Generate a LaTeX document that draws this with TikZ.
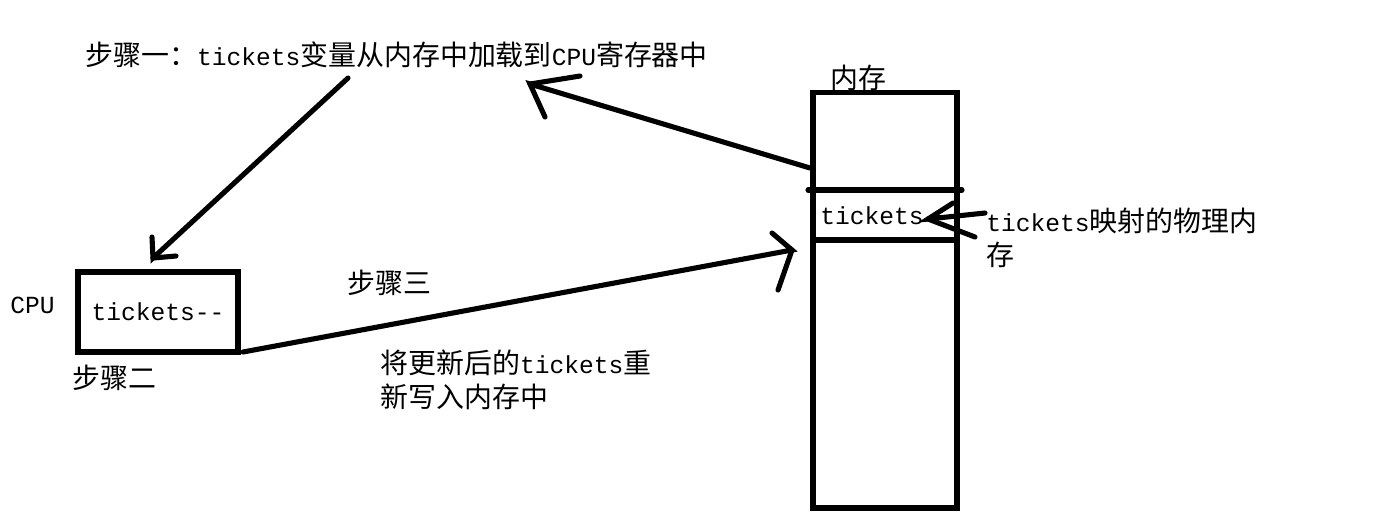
\documentclass[tikz,border=0pt]{standalone}
\usepackage{fontspec}
\newfontfamily\cjk{Noto Sans CJK SC}
\setmonofont{Liberation Mono}
\newcommand{\lat}[1]{{\fontsize{14pt}{16pt}\ttfamily #1}}
\begin{document}
\begin{tikzpicture}[x=0.02cm, y=-0.02cm,
  every node/.style={font=\fontsize{15.9pt}{19.6pt}\cjk, inner sep=0pt},
  pen/.style={line width=2.9pt, line cap=round}]
  \useasboundingbox (0,0) rectangle (1391,522);

  % memory column
  \node[draw, line width=2.9pt, minimum width=2.88cm, minimum height=8.32cm] (mem) at (885,300) {};
  \draw[pen] (808,190) -- (962,190);
  \draw[pen] (813,240) -- (957,240);
  \node[anchor=west] (memlabel) at (830,78) {内存};
  \node[anchor=west] (slot) at (820,216) {\lat{tickets}};
  \node[anchor=west, align=left] (maplabel) at (986,238) {\lat{tickets}映射的物理内\\存};

  % cpu
  \node[draw, line width=2.9pt, minimum width=3.2cm, minimum height=1.6cm] (cpu) at (158,312) {\lat{tickets--}};
  \node[anchor=west] (cpulabel) at (10,305) {\lat{CPU}};

  % steps
  \node[anchor=west] (step1) at (85,55) {步骤一：\lat{tickets}变量从内存中加载到\lat{CPU}寄存器中};
  \node[anchor=west] (step2) at (72,378) {步骤二};
  \node[anchor=west] (step3) at (347,283) {步骤三};
  \node[anchor=west, align=left] (writeback) at (380,380) {将更新后的\lat{tickets}重\\新写入内存中};

  % arrow ends
  \coordinate (loadS) at (348,78);
  \coordinate (loadT) at (153,258);
  \coordinate (fetchS) at (810,168);
  \coordinate (fetchT) at (530,84);
  \coordinate (backS) at (243,352);
  \coordinate (backT) at (792,250);
  \coordinate (mapS) at (985,213);
  \coordinate (mapT) at (928,219);

  % step one: memory -> register
  \draw[pen] (fetchS) -- (fetchT) -- (545,117);
  \draw[pen] (fetchT) -- (580,76);
  \draw[pen] (loadS) -- (loadT) -- (152,237);
  \draw[pen] (loadT) -- (176,256);
  % step three: write back
  \draw[pen] (backS) -- (backT) -- (772,233);
  \draw[pen] (backT) -- (778,290);
  % mapping
  \draw[pen] (mapS) -- (mapT) -- (953,203);
  \draw[pen] (mapT) -- (975,237);
\end{tikzpicture}
\end{document}
